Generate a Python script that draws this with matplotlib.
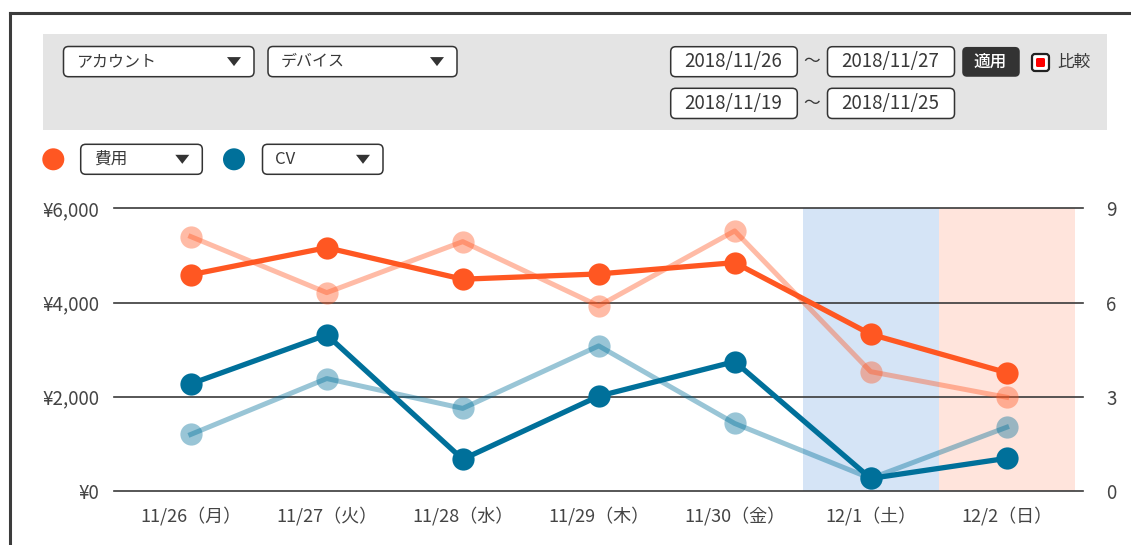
import matplotlib
matplotlib.use('Agg')
import matplotlib.pyplot as plt
from matplotlib.patches import FancyBboxPatch, Rectangle, Polygon, Circle

plt.rcParams['font.family'] = ['Noto Sans CJK JP', 'DejaVu Sans']

# data
days = ['11/26（月）', '11/27（火）', '11/28（水）', '11/29（木）', '11/30（金）', '12/1（土）', '12/2（日）']
cost = [4590, 5165, 4495, 4607, 4847, 3327, 2512]
cost_prev = [5400, 4210, 5293, 3928, 5520, 2533, 1989]
cv = [3.41, 4.97, 1.01, 3.02, 4.12, 0.40, 1.04]
cv_prev = [1.80, 3.58, 2.63, 4.62, 2.15, 0.40, 2.03]
yen_ticks = [0, 2000, 4000, 6000]
yen_labels = ['¥0', '¥2,000', '¥4,000', '¥6,000']
cv_ticks = [0, 3, 6, 9]
dates_now = ['2018/11/26', '2018/11/27']
dates_prev = ['2018/11/19', '2018/11/25']

ORANGE = '#FF5722'
BLUE = '#00709A'
TXT = '#383838'
EDGE = '#333333'

W, H = 1131, 545
fig = plt.figure(figsize=(W / 100, H / 100), dpi=100)

# background axes in pixel units for the UI bits
bg = fig.add_axes([0, 0, 1, 1])
bg.set_xlim(0, W)
bg.set_ylim(H, 0)
bg.axis('off')


def box(x0, y0, x1, y1, fc='white', ec=EDGE, lw=1.1, r=5):
    bg.add_patch(FancyBboxPatch((x0 + r, y0 + r), x1 - x0 - 2 * r, y1 - y0 - 2 * r,
                                boxstyle='round,pad=%g' % r, fc=fc, ec=ec, lw=lw))


def dropdown(x0, y0, x1, y1, label, fs=11.5):
    box(x0, y0, x1, y1)
    yc = (y0 + y1) / 2
    bg.text(x0 + 13, yc, label, ha='left', va='center', fontsize=fs, color=TXT)
    cx = x1 - 20
    bg.add_patch(Polygon([(cx - 7, yc - 4.5), (cx + 7, yc - 4.5), (cx, yc + 4.5)],
                         closed=True, fc=EDGE, ec='none'))


# outer frame
bg.plot([9.5, 9.5], [H, 12.5], color='#3c3c3c', lw=2.2, solid_capstyle='projecting')
bg.plot([9.5, W], [12.5, 12.5], color='#3c3c3c', lw=2.2, solid_capstyle='projecting')

# gray filter panel
bg.add_patch(Rectangle((42.7, 34.3), 1107 - 42.7, 130 - 34.3, fc='#E4E4E4', ec='none'))
dropdown(63.5, 46.5, 254, 76.7, 'アカウント')
dropdown(268, 46.5, 457, 76.7, 'デバイス')

for (d0, d1), (y0, y1) in [(dates_now, (46.7, 76.7)), (dates_prev, (88.3, 118.5))]:
    box(670.7, y0, 797.3, y1)
    bg.text(733, (y0 + y1) / 2, d0, ha='center', va='center', fontsize=13.5, color=TXT)
    bg.text(812, (y0 + y1) / 2, '～', ha='center', va='center', fontsize=12, color=TXT)
    box(827.5, y0, 954.5, y1)
    bg.text(890, (y0 + y1) / 2, d1, ha='center', va='center', fontsize=13.5, color=TXT)

box(963, 47.7, 1019, 76, fc='#333333', ec='#333333', r=4)
bg.text(990, 62, '適用', ha='center', va='center', fontsize=12, color='white', weight='medium')

box(1032, 54, 1049, 71, fc='white', ec='#222222', lw=1.6, r=3)
box(1036, 58, 1045, 67, fc='#FF0000', ec='none', lw=0, r=1.5)
bg.text(1057, 62.5, '比較', ha='left', va='center', fontsize=12, color=TXT)

# series selectors
bg.add_patch(Circle((53.3, 159.3), 11, fc=ORANGE, ec='none'))
dropdown(80.7, 144.3, 202.3, 174.3, '費用', fs=12)
bg.add_patch(Circle((234, 159.3), 11, fc=BLUE, ec='none'))
dropdown(262.5, 144.3, 383, 174.3, 'CV', fs=12)

# chart
ax = fig.add_axes([114.3 / W, 1 - 491 / H, (1082.7 - 114.3) / W, (491 - 208.3) / H])
ax.set_facecolor('none')
x = list(range(len(days)))

ax.axvspan(4.5, 5.5, color='#D5E4F6', lw=0, zorder=0)
ax.axvspan(5.5, 6.5, color='#FFE4DC', lw=0, zorder=0)
for v in yen_ticks:
    ax.axhline(v, color='#3a3a3a', lw=1.2, zorder=1, clip_on=False)

ax.plot(x, cost_prev, '-o', color=ORANGE, alpha=0.4, lw=3.6, ms=16, mew=0, zorder=2)
ax.plot(x, cost, '-o', color=ORANGE, lw=3.8, ms=16, mew=0, zorder=3)

ax.set_xlim(-0.562, 6.559)
ax.set_ylim(0, 6000)
ax.set_xticks(x, days)
ax.set_yticks(yen_ticks, yen_labels)
ax.tick_params(axis='x', length=0, pad=11, labelsize=13, labelcolor='#444444')
ax.tick_params(axis='y', length=0, pad=10.5, labelsize=13.5, labelcolor='#444444')
for s in ax.spines.values():
    s.set_visible(False)

ax2 = ax.twinx()
ax2.plot(x, cv_prev, '-o', color=BLUE, alpha=0.4, lw=3.6, ms=16, mew=0, zorder=2)
ax2.plot(x, cv, '-o', color=BLUE, lw=3.8, ms=16, mew=0, zorder=3)
ax2.set_ylim(0, 9)
ax2.set_yticks(cv_ticks, [str(t) for t in cv_ticks])
ax2.tick_params(axis='y', length=0, pad=17, labelsize=13.5, labelcolor='#444444')
for s in ax2.spines.values():
    s.set_visible(False)

fig.savefig('out.png', dpi=100)
